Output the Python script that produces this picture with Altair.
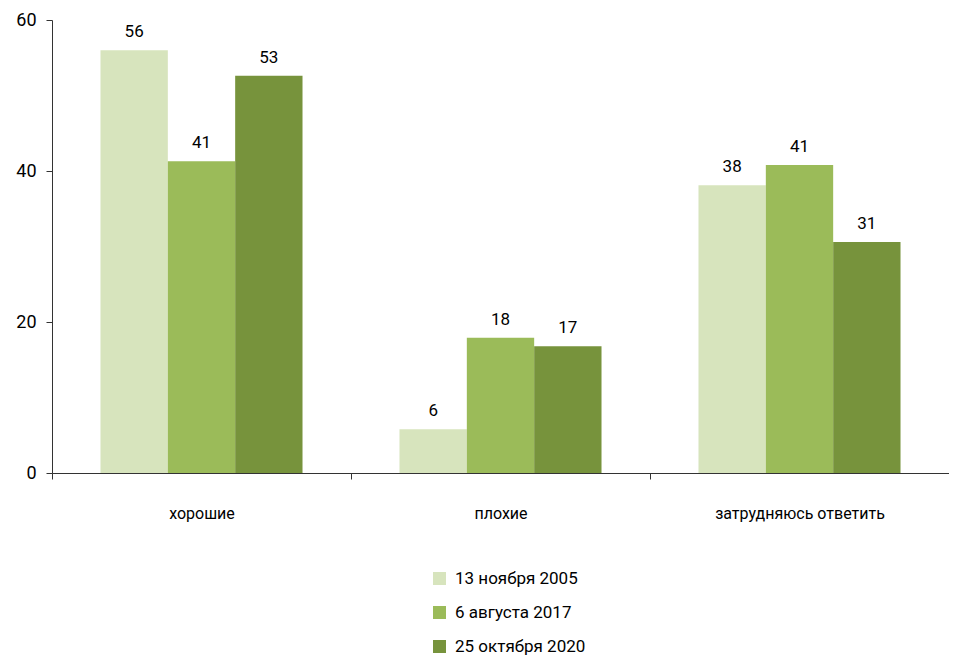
import altair as alt
import pandas as pd

categories = ["хорошие", "плохие", "затрудняюсь ответить"]
series = ["13 ноября 2005", "6 августа 2017", "25 октября 2020"]
values_2005 = [56.0, 5.8, 38.1]
values_2017 = [41.3, 17.9, 40.8]
values_2020 = [52.6, 16.8, 30.6]
colors = ["#D7E4BD", "#9BBB59", "#77933C"]

rows = []
for s, vals in zip(series, [values_2005, values_2017, values_2020]):
    for c, v in zip(categories, vals):
        rows.append({"cat": c, "series": s, "value": v})
df = pd.DataFrame(rows)

FONT = "Roboto, sans-serif"

base = alt.Chart(df).encode(
    x=alt.X("cat:N", sort=categories, title=None,
            scale=alt.Scale(paddingInner=0, paddingOuter=0),
            axis=alt.Axis(labelAngle=0, tickBand="extent", labelPadding=26,
                          labelFontSize=16, labelColor="#000",
                          labelFont=FONT, labelLimit=400,
                          domainColor="#333", tickColor="#333", tickSize=6)),
    xOffset=alt.XOffset("series:N", sort=series,
                        scale=alt.Scale(paddingInner=0, paddingOuter=0.72)),
)

bars = base.mark_bar().encode(
    y=alt.Y("value:Q", title=None,
            scale=alt.Scale(domain=[0, 60]),
            axis=alt.Axis(values=[0, 20, 40, 60], grid=False, labelFontSize=18,
                          labelColor="#000", labelFont=FONT,
                          labelPadding=10,
                          domainColor="#333", tickColor="#333", tickSize=6)),
    color=alt.Color("series:N", sort=series,
                    scale=alt.Scale(domain=series, range=colors),
                    legend=alt.Legend(title=None, orient="none", legendX=379, legendY=550,
                                      symbolType="square", symbolSize=169,
                                      symbolStrokeWidth=0, labelFontSize=17,
                                      labelFont=FONT, labelColor="#000",
                                      rowPadding=16, labelOffset=7)),
)

labels = base.mark_text(baseline="bottom", dy=-9, fontSize=17,
                        font=FONT, color="#000").encode(
    y="value:Q",
    text=alt.Text("value:Q", format=".0f"),
)

chart = (bars + labels).properties(
    width=897, height=453,
    autosize=alt.AutoSizeParams(type="none"),
    padding={"left": 44, "top": 12, "right": 0, "bottom": 187},
).configure_view(stroke=None)

chart.save("out.html", embed_options={"renderer": "svg", "actions": False})
